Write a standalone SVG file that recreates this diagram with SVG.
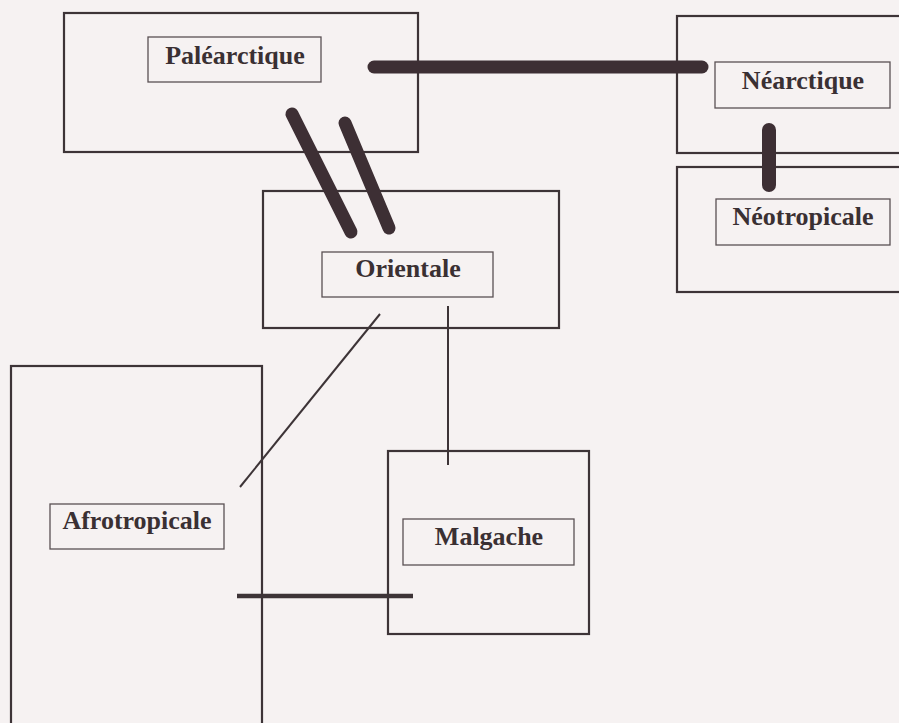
<svg xmlns="http://www.w3.org/2000/svg" width="899" height="723" viewBox="0 0 899 723">
<style>
.outer{fill:none;stroke:#3d3437;stroke-width:2.2}
.label{fill:none;stroke:#5a5053;stroke-width:1.3}
.txt{font-family:"Liberation Serif","Times New Roman",serif;font-weight:bold;font-size:26px;fill:#3a3033;text-anchor:middle}
.thick{stroke:#3d2f34;stroke-width:13;stroke-linecap:round;fill:none}
.thin{stroke:#3d3437;stroke-width:2;fill:none}
</style>
<rect x="0" y="0" width="899" height="723" fill="#f6f2f2"/>
<g id="palearctique">
<rect class="outer" x="64" y="13" width="354" height="139"/>
<rect class="label" x="148" y="37" width="173" height="45"/>
<text class="txt" x="235" y="64">Paléarctique</text>
</g>
<g id="nearctique">
<rect class="outer" x="677" y="16" width="230" height="137"/>
<rect class="label" x="715" y="62" width="175" height="46"/>
<text class="txt" x="803" y="89">Néarctique</text>
</g>
<g id="neotropicale">
<rect class="outer" x="677" y="167" width="230" height="125"/>
<rect class="label" x="716" y="199" width="174" height="46"/>
<text class="txt" x="803" y="225">Néotropicale</text>
</g>
<g id="orientale">
<rect class="outer" x="263" y="191" width="296" height="137"/>
<rect class="label" x="322" y="252" width="171" height="45"/>
<text class="txt" x="408" y="277">Orientale</text>
</g>
<g id="afrotropicale">
<rect class="outer" x="11" y="366" width="251" height="370"/>
<rect class="label" x="50" y="504" width="174" height="45"/>
<text class="txt" x="137" y="529">Afrotropicale</text>
</g>
<g id="malgache">
<rect class="outer" x="388" y="451" width="201" height="183"/>
<rect class="label" x="403" y="519" width="171" height="46"/>
<text class="txt" x="489" y="545">Malgache</text>
</g>
<g id="connectors">
<line class="thick" x1="374" y1="67" x2="702" y2="67"/>
<line class="thick" x1="769" y1="130" x2="769" y2="185" style="stroke-width:14"/>
<line class="thick" x1="292" y1="114" x2="351" y2="232"/>
<line class="thick" x1="345" y1="123" x2="389" y2="228"/>
<line class="thin" x1="380" y1="314" x2="240" y2="487"/>
<line class="thin" x1="448" y1="306" x2="448" y2="465"/>
<line class="thin" x1="237" y1="596" x2="413" y2="596" style="stroke-width:4.5"/>
</g>
</svg>
